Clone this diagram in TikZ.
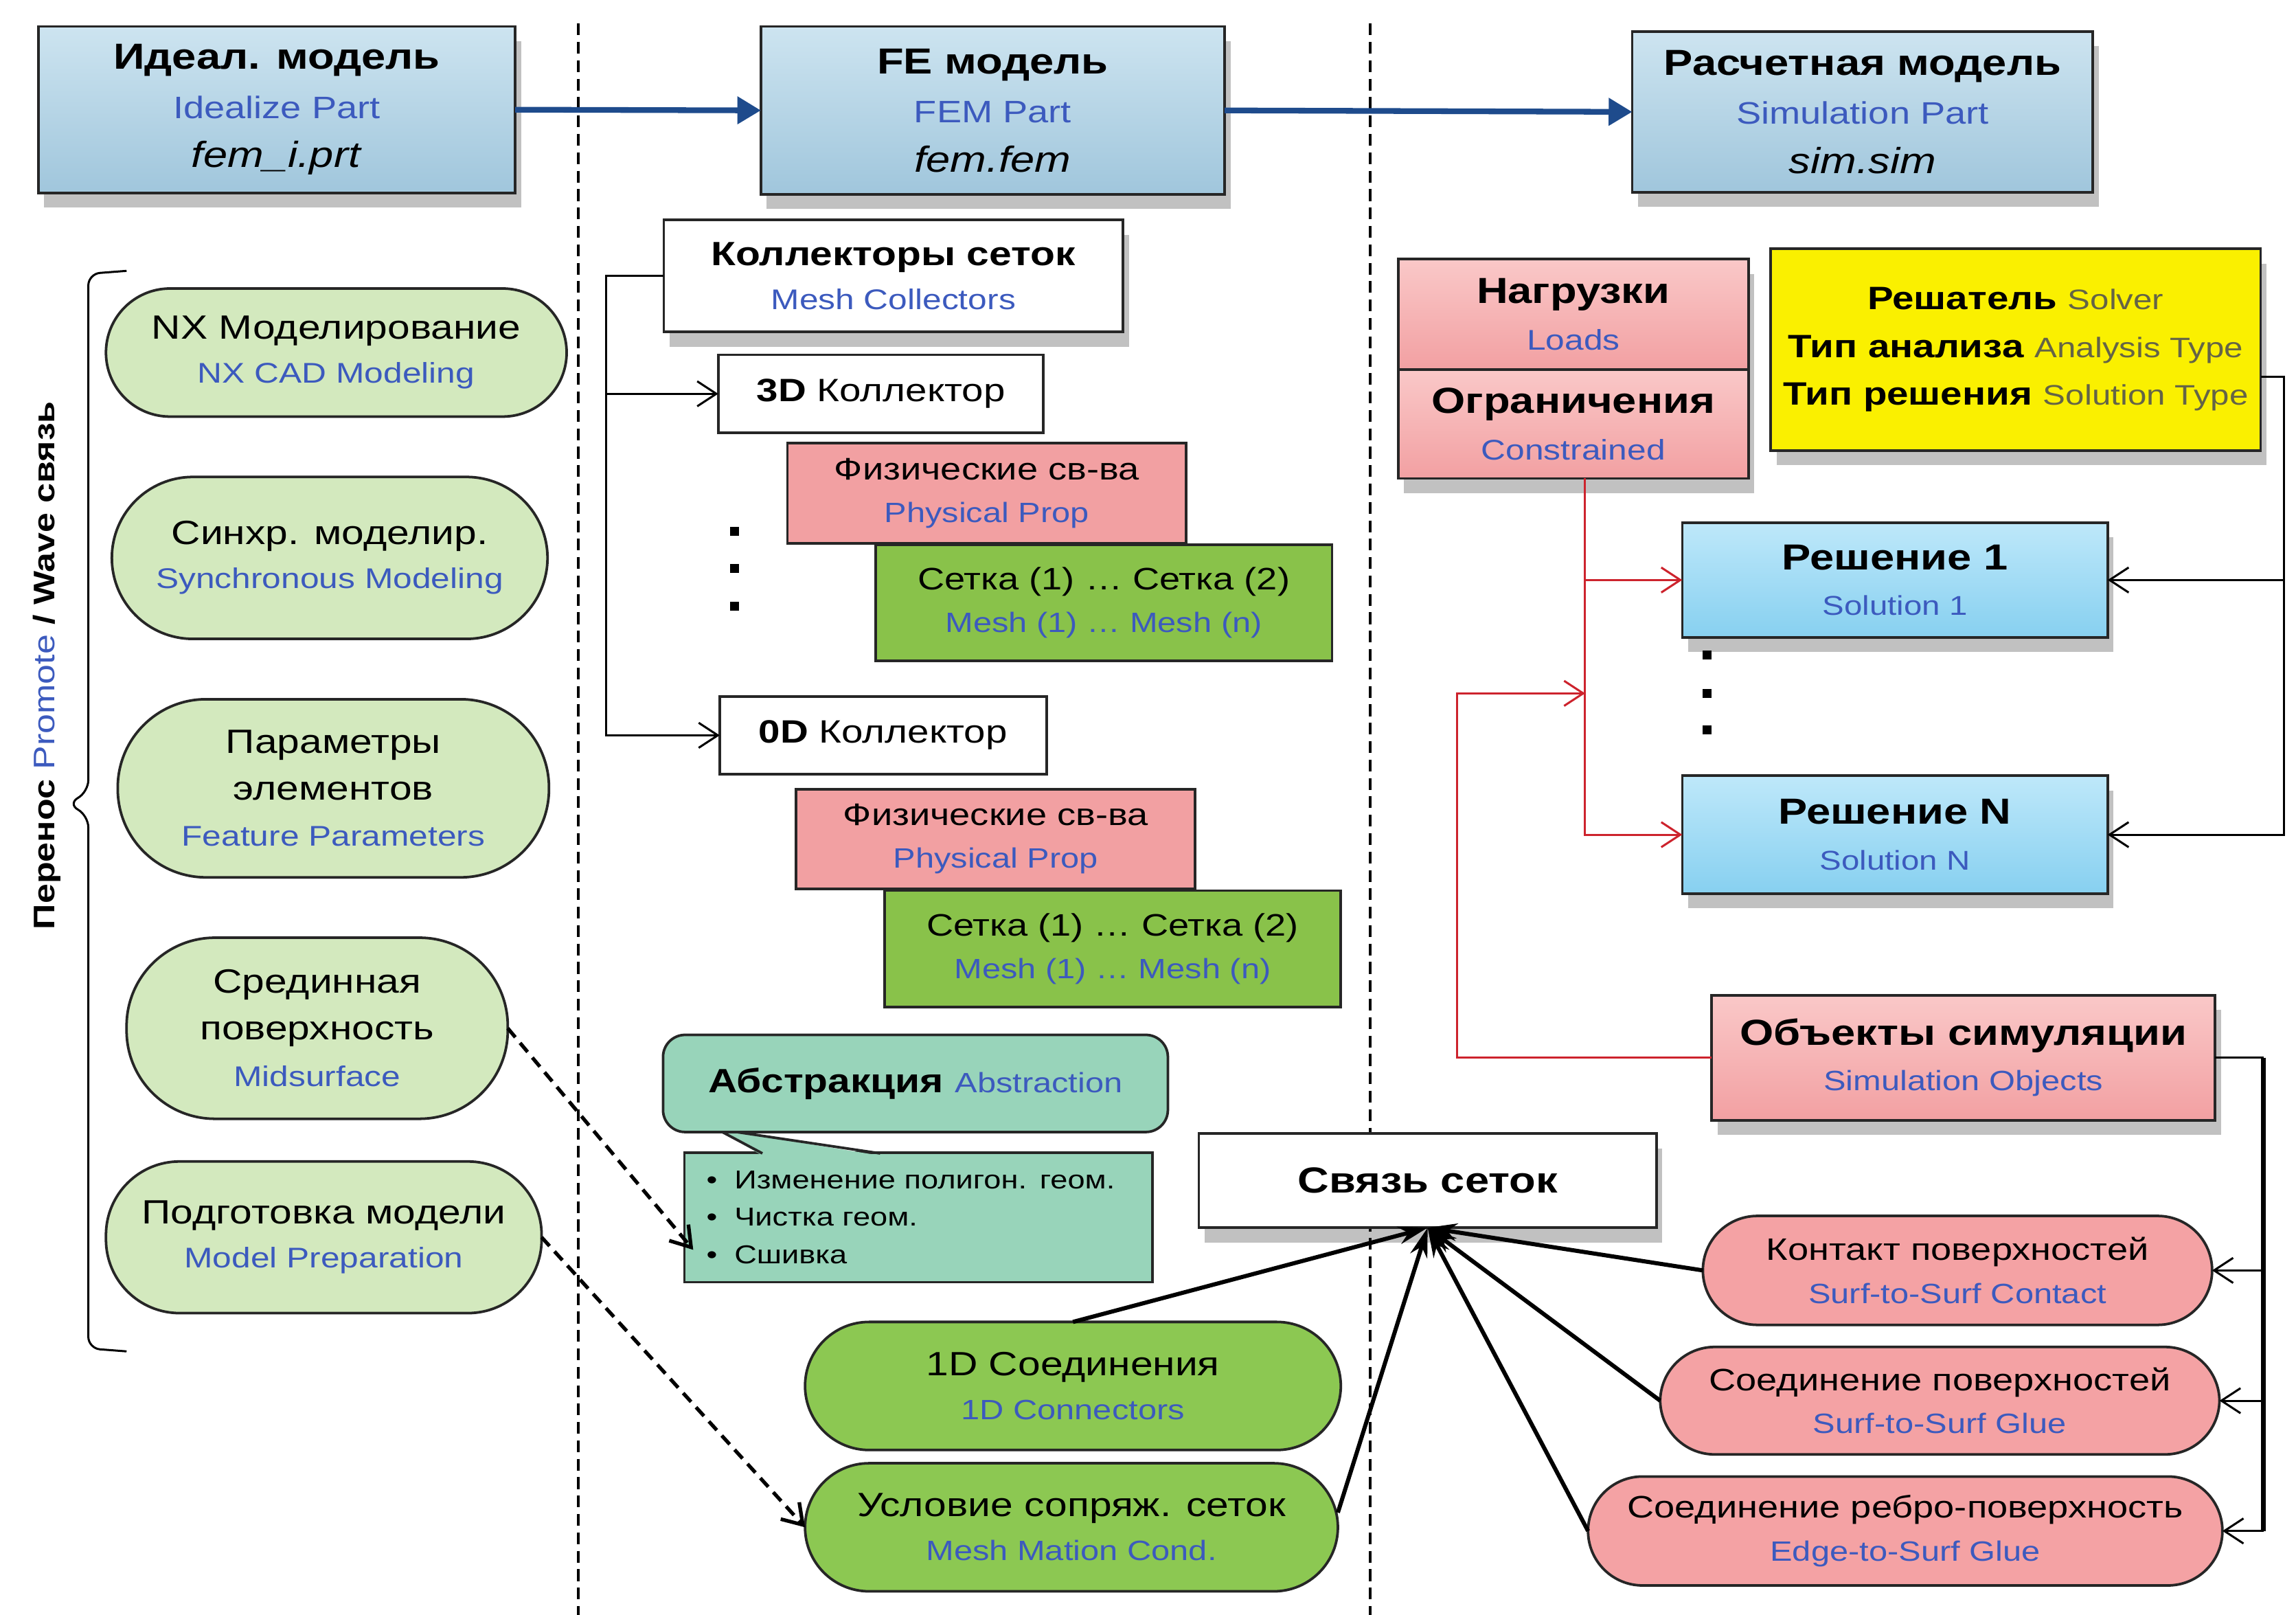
\documentclass[tikz,border=0pt]{standalone}
\usepackage{fontspec}
\setmainfont{Liberation Sans}[FakeStretch=1.2]
\usetikzlibrary{arrows.meta,shadows}

\definecolor{enblue}{RGB}{60,90,190}
\definecolor{engray}{RGB}{100,100,70}
\definecolor{topblue}{RGB}{160,198,220}
\definecolor{topblueL}{RGB}{205,228,240}
\definecolor{solblue}{RGB}{135,208,240}
\definecolor{solblueL}{RGB}{190,232,250}
\definecolor{pinkbox}{RGB}{242,160,162}
\definecolor{pinkboxL}{RGB}{250,200,200}
\definecolor{pinkov}{RGB}{244,162,164}
\definecolor{lgreen}{RGB}{211,233,190}
\definecolor{mgreen}{RGB}{137,194,74}
\definecolor{cgreen}{RGB}{140,200,82}
\definecolor{abteal}{RGB}{152,212,186}
\definecolor{yellowbox}{RGB}{250,240,0}
\definecolor{redline}{RGB}{205,35,45}
\definecolor{arrowblue}{RGB}{30,75,140}

\newcommand{\fsz}[2]{\fontsize{#1}{#2}\selectfont}
\newcommand{\entext}[1]{{\color{enblue}#1}}
\newcommand{\gtext}[1]{{\fsz{10.9}{18.5}\color{engray}#1}}
\newcommand{\bul}{\makebox[3.8mm][l]{\textbullet}}

\begin{document}
\begin{tikzpicture}[x=0.2mm, y=-0.2mm,
    every node/.style={inner sep=0pt, outer sep=0pt},
    box/.style={draw=black!85, line width=1pt, align=center},
    shd/.style={drop shadow={shadow xshift=0.8mm, shadow yshift=-2mm, opacity=0.3, fill=black!80}},
    topbox/.style={box, shd, top color=topblueL, bottom color=topblue, font=\fsz{14}{19}},
    oval/.style={box, fill=lgreen, font=\fsz{13}{17}},
    collbox/.style={box, fill=white, font=\fsz{12.5}{16}},
    physbox/.style={box, fill=pinkbox, font=\fsz{12}{16.5}},
    meshbox/.style={box, fill=mgreen, font=\fsz{12}{16.5}},
    loadbox/.style={box, shd, top color=pinkboxL, bottom color=pinkbox, font=\fsz{14}{18}},
    solbox/.style={box, shd, top color=solblueL, bottom color=solblue, font=\fsz{14}{17.6}},
    pinkoval/.style={box, fill=pinkov, rounded corners=7.4mm, font=\fsz{12}{16.5}},
    greenoval/.style={box, fill=cgreen, rounded corners=8.7mm, font=\fsz{13}{17}},
    sepline/.style={line width=1pt, dash pattern=on 1.6mm off 0.9mm},
    mainarrow/.style={arrowblue, line width=2.2pt, -{Triangle[length=3.2mm,width=3.6mm]}},
    conn/.style={line width=0.8pt, -{Straight Barb[length=2.6mm,width=3.4mm]}},
    redconn/.style={conn, redline},
    fan/.style={line width=1.6pt, -{Stealth[length=4mm,width=2.4mm]}},
    dashconn/.style={line width=1.4pt, dash pattern=on 1.6mm off 1mm, -{Straight Barb[length=2.6mm,width=3.4mm]}}]

    % canvas
    \fill[white] (0,0) rectangle (1560,1097);
    \useasboundingbox (0,0) rectangle (1560,1097);

    % separators between the three parts
    \draw[sepline] (393,16) -- (393,1097);
    \draw[sepline] (931,16) -- (931,1097);

    % top row: the three model files
    \node[topbox, minimum width=64.8mm, minimum height=22.6mm] (idl) at (188,74.5) {\textbf{Идеал. модель}\\{\fsz{12}{19}\entext{Idealize Part}}\\\textit{fem\_i.prt}};
    \node[topbox, minimum width=63mm, minimum height=22.8mm] (fe) at (674.5,75) {\textbf{FE модель}\\{\fsz{12}{19}\entext{FEM Part}}\\\textit{fem.fem}};
    \node[topbox, minimum width=62.6mm, minimum height=21.8mm] (sim) at (1265.5,76) {\textbf{Расчетная модель}\\{\fsz{12}{19}\entext{Simulation Part}}\\\textit{sim.sim}};
    \draw[mainarrow] (idl.east) -- (fe.west);
    \draw[mainarrow] (fe.east) -- (sim.west);

    % left column: geometry tools
    \node[oval, minimum width=62.6mm, minimum height=17.4mm, rounded corners=8.7mm] (nx) at (228.5,239.5) {NX Моделирование\\\entext{\fsz{11}{17}NX CAD Modeling}};
    \node[oval, minimum width=59.2mm, minimum height=22mm, rounded corners=11mm] (syn) at (224,379) {Синхр. моделир.\\\entext{\fsz{11}{17}Synchronous Modeling}};
    \node[oval, minimum width=58.6mm, minimum height=24.2mm, rounded corners=12mm, font=\fsz{13}{18}] (par) at (226.5,535.5) {Параметры\\элементов\\\entext{\fsz{11}{18}Feature Parameters}};
    \node[oval, minimum width=51.8mm, minimum height=24.6mm, rounded corners=12mm, font=\fsz{13}{18}] (mid) at (215.5,698.5) {Срединная\\поверхность\\\entext{\fsz{11}{18}Midsurface}};
    \node[oval, minimum width=59.2mm, minimum height=20.6mm, rounded corners=10mm] (prep) at (220,840.5) {Подготовка модели\\\entext{\fsz{11}{17}Model Preparation}};

    % brace and its label
    \draw[line width=0.8pt, rounded corners=1.6mm] (86,184) -- (60,186) -- (60,538) -- (46,546) -- (60,554) -- (60,916) -- (86,918);
    \node[rotate=90, font=\fsz{11.5}{14}] (wave) at (32,452) {\textbf{Перенос} \entext{Promote} \textbf{/ Wave связь}};

    % middle column: mesh collectors
    \node[collbox, shd, minimum width=62.4mm, minimum height=15.2mm, font=\fsz{13}{17}] (col) at (607,187.5) {\textbf{Коллекторы сеток}\\\entext{\fsz{11}{17}Mesh Collectors}};
    \node[collbox, minimum width=44.2mm, minimum height=10.6mm] (c3d) at (598.5,267.5) {\textbf{3D} Коллектор};
    \node[physbox, minimum width=54.2mm, minimum height=13.6mm] (phA) at (670.5,335) {Физические св-ва\\\entext{\fsz{10.8}{16.5}Physical Prop}};
    \node[meshbox, minimum width=62mm, minimum height=15.8mm] (meA) at (750,409.5) {Сетка (1) … Сетка (2)\\\entext{\fsz{10.8}{16.5}Mesh (1) … Mesh (n)}};
    \node[collbox, minimum width=44.4mm, minimum height=10.6mm] (c0d) at (600,499.5) {\textbf{0D} Коллектор};
    \node[physbox, minimum width=54.2mm, minimum height=13.6mm] (phB) at (676.5,570) {Физические св-ва\\\entext{\fsz{10.8}{16.5}Physical Prop}};
    \node[meshbox, minimum width=62mm, minimum height=15.8mm] (meB) at (756,644.5) {Сетка (1) … Сетка (2)\\\entext{\fsz{10.8}{16.5}Mesh (1) … Mesh (n)}};

    \coordinate (bus) at (412,187.5);
    \draw[conn] (col.west) -- (bus) |- (c0d.west);
    \draw[conn] (bus |- c3d.west) -- (c3d.west);
    \foreach \y in {361,386,412}
        \fill (496,\y-3) rectangle ++(6,6);

    % abstraction note
    \node[box, fill=abteal, minimum width=63.6mm, minimum height=17.6mm, text width=57.6mm, align=left, font=\fsz{10}{14.5}] (note) at (624,827) {\bul Изменение полигон. геом.\\\bul Чистка геом.\\\bul Сшивка};
    \fill[abteal] (518,785) -- (487,767) -- (598,785) -- cycle;
    \draw[line width=1pt, draw=black!85] (518,783.5) -- (487,767) -- (598,783.5);
    \node[box, fill=abteal, rounded corners=3mm, minimum width=68.6mm, minimum height=13.2mm, font=\fsz{13}{16}] (abs) at (622,736) {\textbf{Абстракция} \entext{\fsz{10.8}{16}Abstraction}};

    % mesh connections
    \node[box, shd, fill=white, minimum width=62.2mm, minimum height=12.8mm, font=\bfseries\fsz{14}{17}] (lnk) at (970,802) {Связь сеток};
    \node[greenoval, minimum width=72.8mm, minimum height=17.4mm] (c1d) at (729,941.5) {1D Соединения\\\entext{\fsz{10.8}{17}1D Connectors}};
    \node[greenoval, minimum width=72.4mm, minimum height=17.4mm] (cmm) at (728,1037.5) {Условие сопряж. сеток\\\entext{\fsz{10.8}{17}Mesh Mation Cond.}};

    % right column: simulation
    \node[loadbox, minimum width=47.6mm, minimum height=15mm] (loads) at (1069,213.5) {\textbf{Нагрузки}\\\entext{\fsz{11}{18}Loads}};
    \node[loadbox, minimum width=47.6mm, minimum height=14.8mm] (cons) at (1069,288) {\textbf{Ограничения}\\\entext{\fsz{11}{18}Constrained}};
    \node[box, shd, fill=yellowbox, minimum width=66.6mm, minimum height=27.4mm, font=\fsz{12.5}{18.5}] (solver) at (1369.5,237.5) {\textbf{Решатель} \gtext{Solver}\\\textbf{Тип анализа} \gtext{Analysis Type}\\\textbf{Тип решения} \gtext{Solution Type}};
    \node[solbox, minimum width=57.8mm, minimum height=15.6mm] (sol1) at (1287.5,394) {\textbf{Решение 1}\\\entext{\fsz{10.5}{17.6}Solution 1}};
    \node[solbox, minimum width=57.8mm, minimum height=16mm] (solN) at (1287.5,567) {\textbf{Решение N}\\\entext{\fsz{10.5}{17.6}Solution N}};
    \foreach \y in {445,471,496}
        \fill (1157,\y-3) rectangle ++(6,6);
    \node[loadbox, minimum width=68.4mm, minimum height=17mm, font=\fsz{14}{17.6}] (simobj) at (1334,718.5) {\textbf{Объекты симуляции}\\\entext{\fsz{10.8}{17.6}Simulation Objects}};
    \node[pinkoval, minimum width=69.2mm, minimum height=14.8mm] (cnt) at (1330,863) {Контакт поверхностей\\\entext{\fsz{10.8}{16.5}Surf-to-Surf Contact}};
    \node[pinkoval, minimum width=76mm, minimum height=14.6mm] (glu) at (1318,951.5) {Соединение поверхностей\\\entext{\fsz{10.8}{16.5}Surf-to-Surf Glue}};
    \node[pinkoval, minimum width=86.2mm, minimum height=14.8mm] (edg) at (1294.5,1040) {Соединение ребро-поверхность\\\entext{\fsz{10.8}{16.5}Edge-to-Surf Glue}};

    % loads and simulation objects to the solutions
    \coordinate (rbus) at ([xshift=1.6mm]cons.south);
    \coordinate (rjoin) at (1077,471);
    \draw[redconn] (rbus) |- (solN.west);
    \draw[redconn] (rbus |- sol1.west) -- (sol1.west);
    \draw[redconn] (simobj.west) -- ++(-173,0) |- (rjoin);

    % solver to the solutions
    \coordinate (sbus) at ([xshift=3.2mm,yshift=-3.7mm]solver.east);
    \draw[conn] ([yshift=-3.7mm]solver.east) -- (sbus) |- (solN.east);
    \draw[conn] (sbus |- sol1.east) -- (sol1.east);

    % simulation objects to the contacts
    \coordinate (obus) at ([xshift=6.6mm]simobj.east);
    \draw[line width=0.8pt] (simobj.east) -- (obus);
    \draw[line width=1.8pt] (obus) -- (obus |- edg.east);
    \draw[conn] (obus |- cnt.east) -- (cnt.east);
    \draw[conn] (obus |- glu.east) -- (glu.east);
    \draw[conn] (obus |- edg.east) -- (edg.east);

    % everything that is joined by the mesh connection
    \draw[fan] (c1d.north) -- (lnk.south);
    \draw[fan] ([yshift=2mm]cmm.east) -- (lnk.south);
    \draw[fan] (cnt.west) -- (lnk.south);
    \draw[fan] (glu.west) -- (lnk.south);
    \draw[fan] (edg.west) -- (lnk.south);

    % geometry tools feeding the FE part
    \draw[dashconn] (mid.east) -- ([xshift=1.2mm,yshift=-4.4mm]note.west);
    \draw[dashconn] (prep.east) -- (cmm.west);

\end{tikzpicture}
\end{document}
